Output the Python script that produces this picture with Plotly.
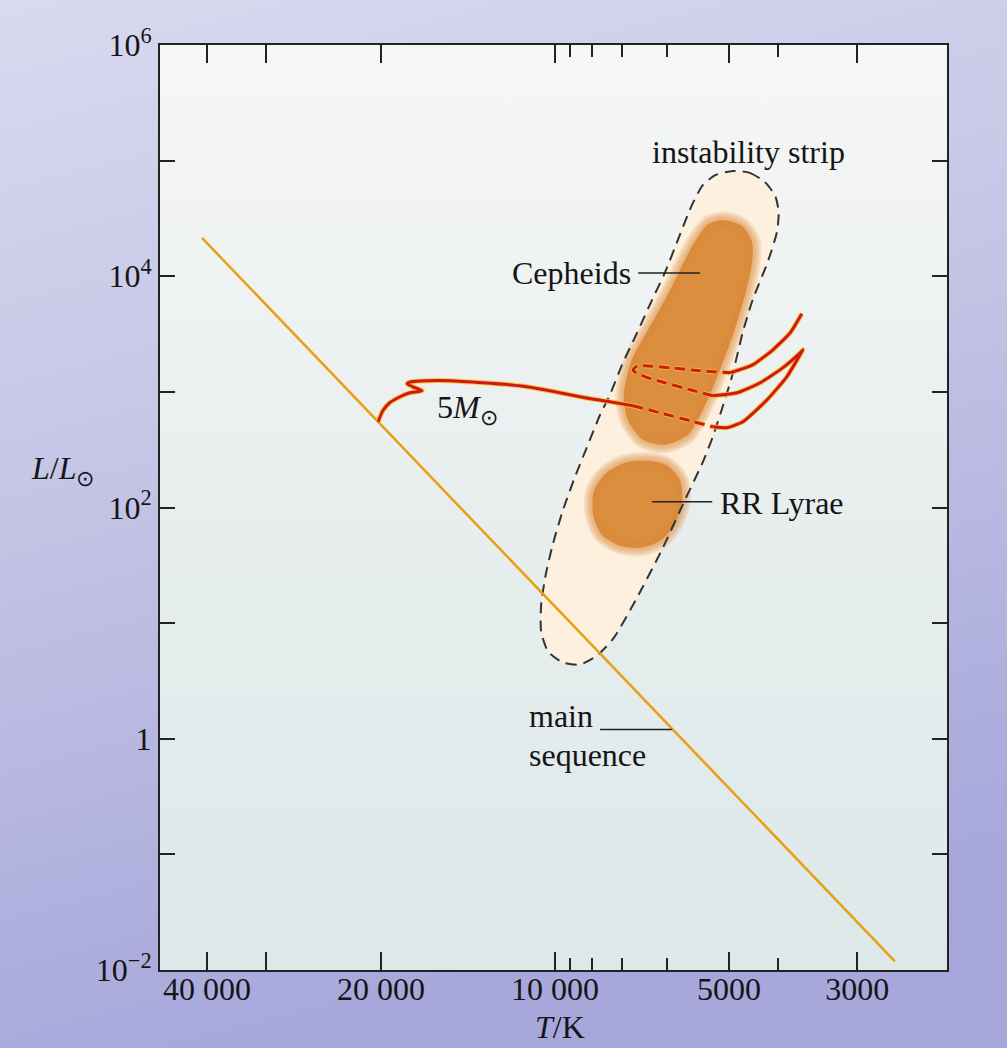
import base64
import numpy as np
import plotly.graph_objects as go

# ---------------- data ----------------
# main sequence (T in K, L in L_sun)
ms_T = [40810, 2582]
ms_L = [21480, 0.01186]

# instability strip outline (log10 T, log10 L)
strip_logT = [3.692, 3.663, 3.637, 3.619, 3.613, 3.616, 3.632, 3.658, 3.675, 3.694,
              3.727, 3.744, 3.775, 3.815, 3.860, 3.898, 3.927, 3.957, 3.986, 4.012,
              4.024, 4.024, 4.016, 4.004, 3.986, 3.964, 3.943, 3.922, 3.905, 3.884,
              3.858, 3.832, 3.810, 3.784, 3.763, 3.744, 3.722]
strip_logL = [4.911, 4.894, 4.816, 4.695, 4.557, 4.384, 4.124, 3.796, 3.519, 3.130,
              2.612, 2.396, 2.067, 1.635, 1.203, 0.875, 0.719, 0.641, 0.659, 0.754,
              0.927, 1.160, 1.419, 1.678, 1.981, 2.283, 2.543, 2.802, 2.975, 3.234,
              3.511, 3.796, 4.029, 4.358, 4.617, 4.790, 4.876]

# Cepheid region outline
ceph_logT = [3.709, 3.677, 3.659, 3.659, 3.671, 3.692, 3.718, 3.744, 3.770, 3.810,
             3.848, 3.874, 3.881, 3.867, 3.839, 3.805, 3.777, 3.754, 3.734]
ceph_logL = [4.487, 4.436, 4.297, 4.124, 3.839, 3.494, 3.148, 2.845, 2.629, 2.543,
             2.586, 2.759, 2.975, 3.277, 3.537, 3.839, 4.124, 4.332, 4.453]

# RR Lyrae region outline
rr_logT = [3.836, 3.805, 3.784, 3.780, 3.791, 3.815, 3.850, 3.888, 3.919, 3.934,
           3.933, 3.913, 3.879]
rr_logL = [2.404, 2.361, 2.240, 2.067, 1.877, 1.722, 1.653, 1.670, 1.765, 1.938,
           2.137, 2.292, 2.387]

# 5 M_sun evolutionary track, split into solid / dashed pieces (log10 T, log10 L)
trk1_logT = [4.306, 4.298, 4.286, 4.268, 4.251, 4.230, 4.246, 4.256, 4.249, 4.221,
             4.182, 4.125, 4.061, 4.009, 3.948, 3.905, 3.865]
trk1_logL = [2.742, 2.837, 2.906, 2.958, 2.992, 3.010, 3.044, 3.070, 3.087, 3.096,
             3.096, 3.079, 3.053, 3.010, 2.949, 2.914, 2.880]
trk2_logT = [3.865, 3.818, 3.766, 3.727]                       # dashed
trk2_logL = [2.880, 2.819, 2.750, 2.698]
trk3_logT = [3.727, 3.702, 3.675, 3.633, 3.599, 3.576, 3.571, 3.576, 3.606, 3.645,
             3.685, 3.727]
trk3_logL = [2.698, 2.690, 2.742, 2.932, 3.130, 3.321, 3.364, 3.338, 3.208, 3.079,
             2.992, 2.966]
trk4_logT = [3.727, 3.766, 3.810, 3.844, 3.860, 3.865, 3.860, 3.844, 3.801, 3.749,
             3.697]                                              # dashed
trk4_logL = [2.966, 3.018, 3.079, 3.130, 3.165, 3.191, 3.217, 3.226, 3.208, 3.182,
             3.165]
trk5_logT = [3.697, 3.658, 3.623, 3.593, 3.573]
trk5_logL = [3.165, 3.234, 3.364, 3.511, 3.675]

# label leader lines (log10 T pairs, log10 L)
ceph_ptr_logT, ceph_ptr_logL = [3.856, 3.749], 4.029
rr_ptr_logT, rr_ptr_logL = [3.832, 3.728], 2.050
ms_ptr_logT, ms_ptr_logL = [3.922, 3.798], 0.080

# ticks
x_major = [40000, 31600, 20000, 10000, 5000, 3000]
x_major_text = ['40 000', ' ', '20 000', '10 000', '5000', '3000']
x_minor = [9420, 8630, 7660, 6390, 4110]
y_major = [1e-2, 1, 1e2, 1e4, 1e6]
y_major_text = ['10<sup>−2</sup>', '1', '10<sup>2</sup>', '10<sup>4</sup>',
                '10<sup>6</sup>']
y_minor = [1e-1, 1e1, 1e3, 1e5]

# ---------------- styling ----------------
FONT = 'Liberation Serif'
INK = '#151515'
ORANGE_LINE = '#E8A012'
BLOB = (219, 138, 58)
RED = '#D01818'
HALO = 'rgba(246,196,40,0.85)'


def tl(logT, logL, close=False):
    lt = list(logT) + ([logT[0]] if close else [])
    ll = list(logL) + ([logL[0]] if close else [])
    return 10 ** np.array(lt), 10 ** np.array(ll)


fig = go.Figure()

# instability strip fill
sx, sy = tl(strip_logT, strip_logL, close=True)
fig.add_trace(go.Scatter(x=sx, y=sy, mode='lines', fill='toself',
                         fillcolor='rgba(253,239,222,0.97)',
                         line=dict(width=0, shape='spline', smoothing=0.6),
                         hoverinfo='skip'))


def add_blob(logT, logL):
    bx, by = tl(logT, logL, close=True)
    r, g, b = BLOB
    fig.add_trace(go.Scatter(x=bx, y=by, mode='lines', fill='toself',
                             fillcolor=f'rgba({r},{g},{b},0.97)',
                             line=dict(width=0, shape='spline', smoothing=0.8),
                             hoverinfo='skip'))
    for w in [17, 13, 9, 5]:
        fig.add_trace(go.Scatter(x=bx, y=by, mode='lines',
                                 line=dict(width=w, color=f'rgba({r},{g},{b},0.19)',
                                           shape='spline', smoothing=0.8),
                                 hoverinfo='skip'))


add_blob(ceph_logT, ceph_logL)
add_blob(rr_logT, rr_logL)

# strip dashed outline
fig.add_trace(go.Scatter(x=sx, y=sy, mode='lines',
                         line=dict(width=2, color='#333', dash='11px,7px',
                                   shape='spline', smoothing=0.6),
                         hoverinfo='skip'))

# main sequence
fig.add_trace(go.Scatter(x=ms_T, y=ms_L, mode='lines',
                         line=dict(width=2.5, color=ORANGE_LINE), hoverinfo='skip'))

# evolutionary track
segments = [(trk1_logT, trk1_logL, 'solid'), (trk2_logT, trk2_logL, '10px,6px'),
            (trk3_logT, trk3_logL, 'solid'), (trk4_logT, trk4_logL, '10px,6px'),
            (trk5_logT, trk5_logL, 'solid')]
for lt, ll, dash in segments:
    x, y = tl(lt, ll)
    fig.add_trace(go.Scatter(x=x, y=y, mode='lines',
                             line=dict(width=5, color=HALO, dash=dash,
                                       shape='spline', smoothing=0.5),
                             hoverinfo='skip'))
for lt, ll, dash in segments:
    x, y = tl(lt, ll)
    fig.add_trace(go.Scatter(x=x, y=y, mode='lines',
                             line=dict(width=3, color=RED, dash=dash,
                                       shape='spline', smoothing=0.5),
                             hoverinfo='skip'))

# leader lines
for pt, pl in [(ceph_ptr_logT, ceph_ptr_logL), (rr_ptr_logT, rr_ptr_logL),
               (ms_ptr_logT, ms_ptr_logL)]:
    fig.add_trace(go.Scatter(x=10 ** np.array(pt), y=[10 ** pl, 10 ** pl], mode='lines',
                             line=dict(width=1.5, color='#222'), hoverinfo='skip'))

# ---------------- labels ----------------
lab = dict(family=FONT, size=32, color=INK)
annotations = [
    dict(x=3.836, y=5.075, text='instability strip', xanchor='left', yanchor='middle'),
    dict(x=3.865, y=4.029, text='Cepheids', xanchor='right', yanchor='middle'),
    dict(x=3.718, y=2.042, text='RR Lyrae', xanchor='left', yanchor='middle'),
    dict(x=4.048, y=0.200, text='main', xanchor='left', yanchor='middle'),
    dict(x=4.048, y=-0.140, text='sequence', xanchor='left', yanchor='middle'),
    dict(x=4.208, y=2.845, text='5<i>M</i><sub>⊙</sub>', xanchor='left', yanchor='middle'),
]
for a in annotations:
    a.update(xref='x', yref='y', showarrow=False, font=lab)

annotations += [
    dict(x=0.508, y=-0.0616, xref='paper', yref='paper', text='<i>T</i>/K',
         showarrow=False, font=lab, xanchor='center', yanchor='middle'),
    dict(x=-0.1245, y=0.5405, xref='paper', yref='paper',
         text='<i>L</i>/<i>L</i><sub>⊙</sub>', showarrow=False, font=lab,
         xanchor='center', yanchor='middle'),
]


def svg_uri(svg):
    return 'data:image/svg+xml;base64,' + base64.b64encode(svg.encode()).decode()


outer_svg = ("<svg xmlns='http://www.w3.org/2000/svg' width='100' height='100' "
             "preserveAspectRatio='none'><defs><linearGradient id='g' x1='0' y1='0' "
             "x2='0.25' y2='1'><stop offset='0' stop-color='#d9d9ef'/>"
             "<stop offset='0.5' stop-color='#c2c2e5'/>"
             "<stop offset='1' stop-color='#a7a7db'/></linearGradient></defs>"
             "<rect width='100' height='100' fill='url(#g)'/></svg>")
inner_svg = ("<svg xmlns='http://www.w3.org/2000/svg' width='100' height='100' "
             "preserveAspectRatio='none'><defs><linearGradient id='h' x1='0' y1='0' "
             "x2='0' y2='1'><stop offset='0' stop-color='#f6f7f6'/>"
             "<stop offset='0.5' stop-color='#e8eeee'/>"
             "<stop offset='1' stop-color='#dde8e9'/></linearGradient></defs>"
             "<rect width='100' height='100' fill='url(#h)'/></svg>")

L_M, R_M, T_M, B_M = 160, 60, 45, 78
W, H = 1007, 1048
pw, ph = W - L_M - R_M, H - T_M - B_M

images = [
    dict(source=svg_uri(outer_svg), xref='paper', yref='paper',
         x=-L_M / pw, y=1 + T_M / ph, sizex=W / pw, sizey=H / ph,
         xanchor='left', yanchor='top', sizing='stretch', layer='below'),
    dict(source=svg_uri(inner_svg), xref='paper', yref='paper',
         x=0, y=1, sizex=1, sizey=1, xanchor='left', yanchor='top',
         sizing='stretch', layer='below'),
]

tickfont = dict(family=FONT, size=32, color=INK)
fig.update_layout(
    width=W, height=H,
    margin=dict(l=L_M, r=R_M, t=T_M, b=B_M),
    paper_bgcolor='#c4c4e6', plot_bgcolor='#e7eded',
    showlegend=False,
    annotations=annotations,
    images=images,
    xaxis=dict(type='log', range=[4.6834, 3.3218], tickmode='array',
               tickvals=x_major, ticktext=x_major_text, ticks='inside', ticklen=18,
               tickwidth=1.6, tickcolor='#222', showline=True, linecolor='#222',
               linewidth=2, mirror='ticks', showgrid=False, zeroline=False,
               tickfont=tickfont, ticklabelstandoff=-10,
               minor=dict(tickmode='array', tickvals=x_minor, ticks='inside', ticklen=12,
                          tickwidth=1.6, tickcolor='#222', showgrid=False)),
    yaxis=dict(type='log', range=[-2, 6], tickmode='array', tickvals=y_major,
               ticktext=y_major_text, ticks='inside', ticklen=15, tickwidth=1.6,
               tickcolor='#222', showline=True, linecolor='#222', linewidth=2,
               mirror='ticks', showgrid=False, zeroline=False, tickfont=tickfont,
               minor=dict(tickmode='array', tickvals=y_minor, ticks='inside', ticklen=15,
                          tickwidth=1.6, tickcolor='#222', showgrid=False)),
)

fig.write_html('out.html')
